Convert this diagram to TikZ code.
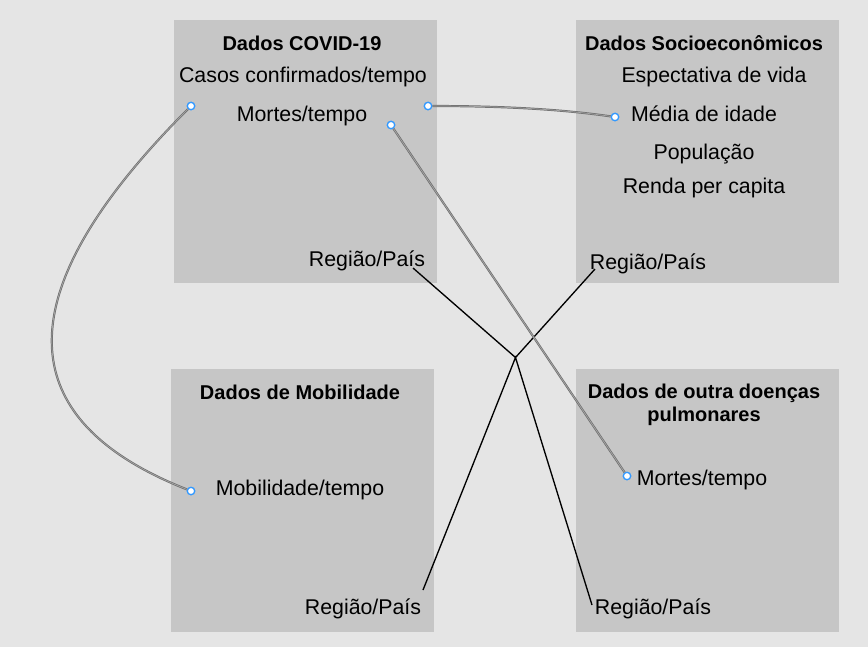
\documentclass[tikz,border=0pt]{standalone}
\usepackage{fontspec}
\setmainfont{Liberation Sans}
\begin{document}
\begin{tikzpicture}[x=0.75pt,y=-0.75pt,
  panel/.style={fill=boxgray,draw=none,anchor=north west,inner sep=0pt},
  txt/.style={anchor=base,inner sep=0pt,font=\fontsize{16}{19}\selectfont},
  ttl/.style={txt,font=\fontsize{15}{18}\selectfont\bfseries},
  dot/.style={circle,draw=dotblue,fill=white,line width=0.9pt,minimum size=5.5pt,inner sep=0pt},
  link/.style={draw=linkgray,line width=1.6pt},
  linkin/.style={draw=linklight,line width=0.5pt},
  wire/.style={draw=black,line width=1pt}]
\definecolor{bggray}{HTML}{E5E5E5}
\definecolor{boxgray}{HTML}{C6C6C6}
\definecolor{dotblue}{HTML}{3399FF}
\definecolor{linkgray}{HTML}{6E6E6E}
\definecolor{linklight}{HTML}{A8A8A8}
\fill[bggray] (0,0) rectangle (868,647);
\useasboundingbox (0,0) rectangle (868,647);
% panels
\node[panel,minimum width=263*0.75pt,minimum height=263*0.75pt] (p1) at (174,20) {};
\node[panel,minimum width=263*0.75pt,minimum height=263*0.75pt] (p2) at (576,20) {};
\node[panel,minimum width=263*0.75pt,minimum height=263*0.75pt] (p3) at (171,369) {};
\node[panel,minimum width=263*0.75pt,minimum height=263*0.75pt] (p4) at (576,369) {};
% texts panel 1
\node[ttl] (t1) at (302,50) {Dados COVID-19};
\node[txt] (c1) at (303,82.5) {Casos confirmados/tempo};
\node[txt] (m1) at (302,121) {Mortes/tempo};
\node[txt] (r1) at (367,266) {Região/País};
% panel 2
\node[ttl] (t2) at (704,50.5) {Dados Socioeconômicos};
\node[txt] (e2) at (714,82.5) {Espectativa de vida};
\node[txt] (i2) at (704,121) {Média de idade};
\node[txt] (pp2) at (704,159.5) {População};
\node[txt] (rp2) at (704,193.5) {Renda per capita};
\node[txt] (r2) at (648,269) {Região/País};
% panel 3
\node[ttl] (t3) at (300,399) {Dados de Mobilidade};
\node[txt] (mb3) at (300,495) {Mobilidade/tempo};
\node[txt] (r3) at (363,614) {Região/País};
% panel 4
\node[ttl] (t4a) at (704,398) {Dados de outra doenças};
\node[ttl] (t4b) at (704,421) {pulmonares};
\node[txt] (m4) at (702,485) {Mortes/tempo};
\node[txt] (r4) at (653,614) {Região/País};
% black wires
\coordinate (j) at (515.5,357.5);
\coordinate (w1) at (413,268);
\coordinate (w2) at (595,269);
\coordinate (w3) at (423,590);
\coordinate (w4) at (592,605);
\draw[wire] (w1) -- (j) -- (w2);
\draw[wire] (w3) -- (j) -- (w4);
% gray links
\node[dot] (d1) at (191,106) {};
\node[dot] (d2) at (191,491) {};
\node[dot] (d3) at (428,106) {};
\node[dot] (d4) at (615,117) {};
\node[dot] (d5) at (391,125) {};
\node[dot] (d6) at (627,476) {};
\foreach \s in {link,linkin}{
  \draw[\s] (d1) .. controls (60,237) and (-40,400) .. (d2);
  \draw[\s] (d3) .. controls (500,106) and (560,109) .. (d4);
  \draw[\s] (d5) -- (d6);
}
\foreach \d in {d1,d2,d3,d4,d5,d6}{\node[dot] at (\d) {};}
\end{tikzpicture}
\end{document}
